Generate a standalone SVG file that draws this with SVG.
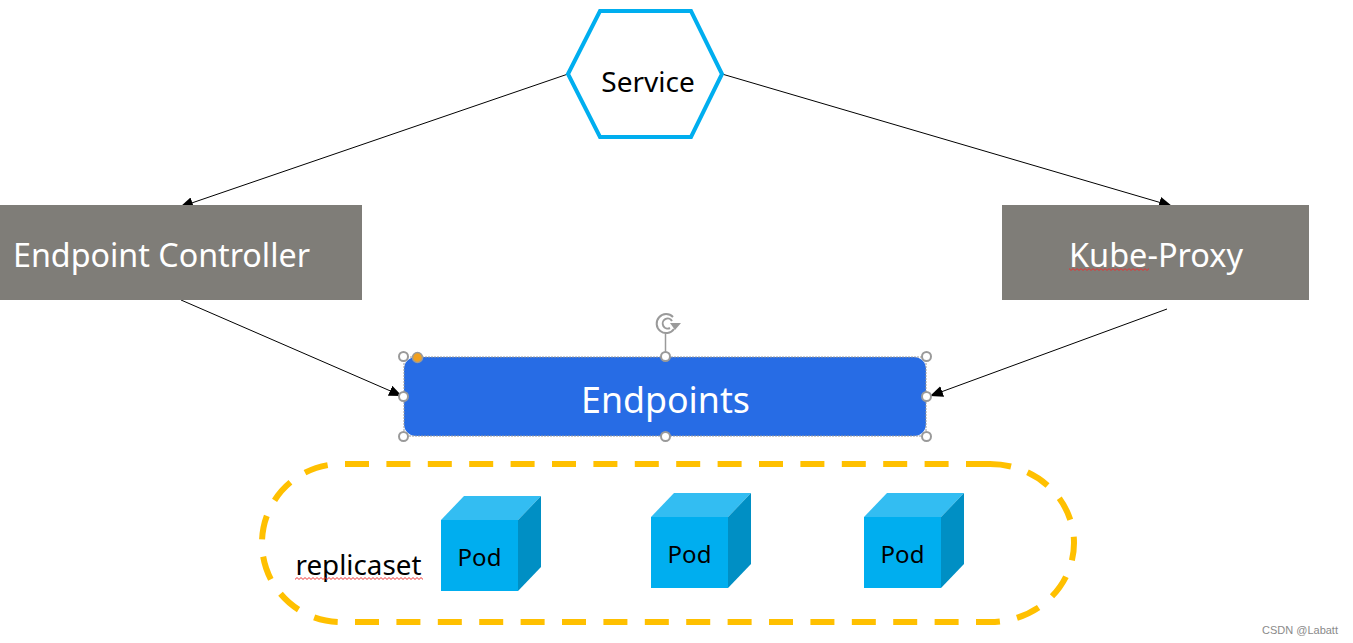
<svg xmlns="http://www.w3.org/2000/svg" width="1353" height="643" viewBox="0 0 1353 643">
  <style>
    text { font-family: "Noto Sans", "Open Sans", "Liberation Sans", sans-serif; }
    .box { fill: #7f7d78; }
    .big { font-size: 32px; fill: #fff; text-anchor: middle; }
    .dark { fill: #000; text-anchor: middle; }
    .link { fill: none; stroke: #000; stroke-width: 1; marker-end: url(#tip); }
    .handle { fill: #fff; stroke: #9a9a9a; stroke-width: 2; }
    .front { fill: #00aeef; }
    .top { fill: #33bdf2; }
    .side { fill: #008fc4; }
  </style>
  <defs>
    <marker id="tip" markerUnits="userSpaceOnUse" markerWidth="14" markerHeight="12" refX="13" refY="5.500" orient="auto">
      <path d="M0 0L13 5.500L0 11Z" fill="#000"/>
    </marker>
    <pattern id="zigzag" patternUnits="userSpaceOnUse" x="0" y="0" width="4" height="3">
      <path d="M-1 2.500L1 0.500L3 2.500L5 0.500" fill="none" stroke="#ee2a2a" stroke-width="1"/>
    </pattern>
    <g id="cube">
      <path class="front" d="M0 24H77V95H0Z"/>
      <path class="top" d="M0 24L23 0H100L77 24Z"/>
      <path class="side" d="M77 24L100 0V71L77 95Z"/>
    </g>
  </defs>

  <rect width="1353" height="643" fill="#fff"/>

  <g id="connectors">
    <line class="link" x1="568" y1="74" x2="180" y2="207"/>
    <line class="link" x1="722" y1="74" x2="1172" y2="206"/>
    <line class="link" x1="181" y1="300" x2="402" y2="396"/>
    <line class="link" x1="1167" y1="309" x2="930" y2="396"/>
  </g>

  <g id="service">
    <polygon points="568,74 600,11 691,11 722,74 691,137 600,137" fill="#fff" stroke="#00aeef" stroke-width="4"/>
    <text class="dark" x="648" y="92" font-size="28">Service</text>
  </g>

  <g id="endpoint-controller">
    <rect class="box" x="0" y="205" width="362" height="95"/>
    <text class="big" x="161.500" y="267" textLength="297" lengthAdjust="spacingAndGlyphs">Endpoint Controller</text>
  </g>

  <g id="kube-proxy">
    <rect class="box" x="1002" y="205" width="307" height="95"/>
    <text class="big" x="1156" y="267" textLength="174" lengthAdjust="spacingAndGlyphs">Kube-Proxy</text>
    <rect x="1069" y="267" width="80" height="3" fill="url(#zigzag)" transform="translate(0 1)"/>
  </g>

  <g id="endpoints">
    <rect x="404" y="357" width="522" height="79" rx="12" fill="#276ce5"/>
    <rect x="404" y="357" width="522" height="79" fill="none" stroke="#9a9a9a" stroke-width="1" stroke-dasharray="2 1"/>
    <text class="big" x="665.500" y="413" style="font-size:36px" textLength="169" lengthAdjust="spacingAndGlyphs">Endpoints</text>
    <line x1="665.500" y1="333" x2="665.500" y2="357" stroke="#9a9a9a" stroke-width="1.500"/>
    <path d="M673 317A9.500 9.500 0 1 0 674 329" fill="none" stroke="#9a9a9a" stroke-width="2"/>
    <path d="M672 321A5 5 0 1 0 670 328" fill="none" stroke="#9a9a9a" stroke-width="2"/>
    <path d="M670 323L681 323L675 330Z" fill="#9a9a9a"/>
    <circle class="handle" cx="403.500" cy="356.500" r="4.500"/>
    <circle class="handle" cx="665.500" cy="356.500" r="4.500"/>
    <circle class="handle" cx="926.500" cy="356.500" r="4.500"/>
    <circle class="handle" cx="403.500" cy="396.500" r="4.500"/>
    <circle class="handle" cx="926.500" cy="396.500" r="4.500"/>
    <circle class="handle" cx="403.500" cy="436.500" r="4.500"/>
    <circle class="handle" cx="665.500" cy="436.500" r="4.500"/>
    <circle class="handle" cx="926.500" cy="436.500" r="4.500"/>
    <circle cx="417.500" cy="357.500" r="5" fill="#f0a020" stroke="#9a9a9a" stroke-width="1.500"/>
  </g>

  <g id="replicaset">
    <path d="M990 464H341A79 79 0 0 0 341 622H990A84 79 0 0 0 990 464" fill="none" stroke="#ffc000" stroke-width="6" stroke-dasharray="24 17.400"/>
    <text x="358.500" y="575" font-size="28" fill="#000" text-anchor="middle" textLength="126" lengthAdjust="spacingAndGlyphs">replicaset</text>
    <rect x="295" y="576" width="128" height="3" fill="url(#zigzag)" transform="translate(0 1)"/>
  </g>

  <g id="pod-1">
    <use href="#cube" x="441" y="496"/>
    <text class="dark" x="479.500" y="566" font-size="24">Pod</text>
  </g>
  <g id="pod-2">
    <use href="#cube" x="651" y="493"/>
    <text class="dark" x="689.500" y="563" font-size="24">Pod</text>
  </g>
  <g id="pod-3">
    <use href="#cube" x="864" y="493"/>
    <text class="dark" x="902.500" y="563" font-size="24">Pod</text>
  </g>

  <text x="1262" y="634" font-size="11" fill="#8a8a8a" style="font-family:'Liberation Sans',sans-serif">CSDN @Labatt</text>
</svg>
